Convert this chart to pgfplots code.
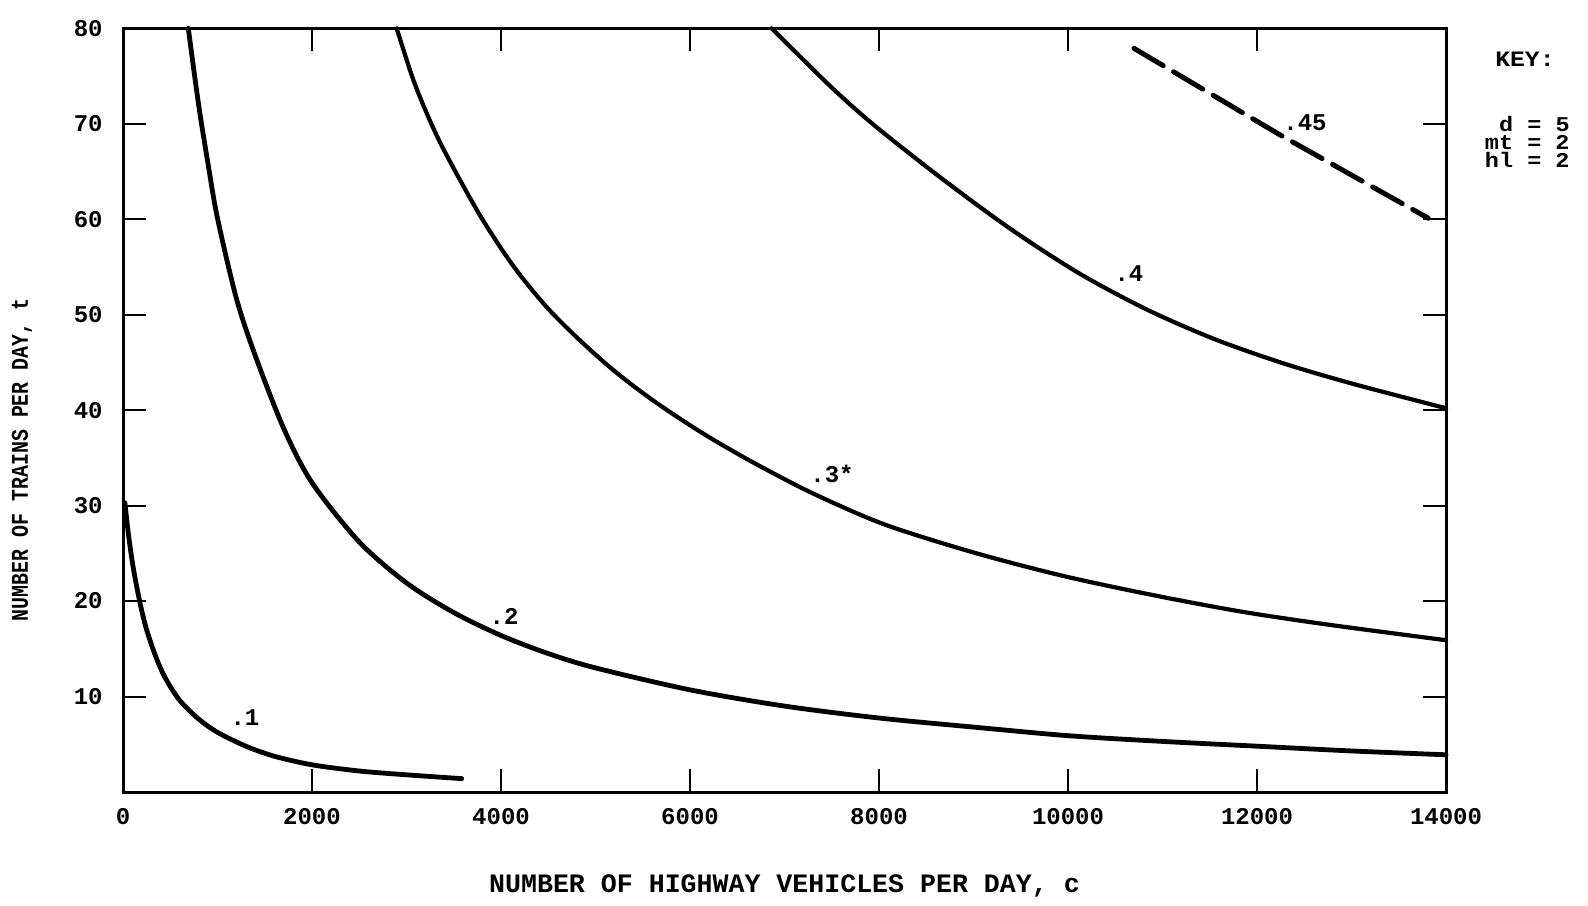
\documentclass[border=0pt]{standalone}
\usepackage{fontspec}
\usepackage{pgfplots}
\pgfplotsset{compat=1.18}
\newfontfamily\tw{Liberation Mono}
\newfontfamily\twc{Liberation Mono}[FakeStretch=0.83]
\newfontfamily\twk{Liberation Mono}[FakeStretch=1.12]

\begin{document}
\begin{tikzpicture}
\useasboundingbox (-61.5pt,-56.5pt) rectangle (732.5pt,396pt);
\begin{axis}[
  scale only axis, width=661.5pt, height=381.85pt,
  xmin=0, xmax=14000, ymin=0, ymax=80,
  scaled x ticks=false, scaled y ticks=false,
  xtick={0,2000,4000,6000,8000,10000,12000,14000},
  ytick={10,20,30,40,50,60,70,80},
  xticklabels={0,2000,4000,6000,8000,10000,12000,14000},
  yticklabels={10,20,30,40,50,60,70,80},
  tick align=inside, major tick length=11.5pt,
  major tick style={black, line width=1pt},
  axis line style={black, line width=1.5pt},
  ticklabel style={font=\fontsize{12}{14}\selectfont\tw\bfseries},
  xticklabel style={anchor=north, inner sep=0pt, yshift=-8pt},
  yticklabel style={anchor=east, inner sep=0pt, xshift=-10pt},
  xlabel={NUMBER OF HIGHWAY VEHICLES PER DAY, c},
  ylabel={NUMBER OF TRAINS PER DAY, t},
  xlabel style={at={(axis description cs:0.5,0)}, anchor=center, yshift=-47pt, font=\fontsize{13.3}{16}\selectfont\tw\bfseries},
  ylabel style={at={(axis description cs:-0.0763,0.435)}, anchor=center, font=\fontsize{12}{14}\selectfont\twc\bfseries},
  clip=false,
]
% curve .1
\addplot[black, line width=2.4pt, smooth, line cap=round] coordinates {
(20,30.3) (60,26.8) (110,23.4) (180,19.8) (250,17.0) (350,14.1) (450,11.9) (600,9.6) (800,7.65) (1000,6.25) (1300,4.8) (1600,3.75) (2000,2.85) (2500,2.2) (3000,1.8) (3584,1.4)
};
% curve .2
\addplot[black, line width=2.4pt, smooth, line cap=round] coordinates {
(691,80) (800,72.0) (900,65.8) (1000,60.1) (1200,51.7) (1400,45.7) (1700,38.1) (2000,32.4) (2500,26.2) (3000,21.9) (3500,18.8) (4000,16.4) (4500,14.5) (5000,13.0) (6000,10.7) (7000,9.0) (8000,7.75) (9000,6.8) (10000,5.9) (11000,5.3) (12000,4.8) (13000,4.3) (14000,3.9)
};
% curve .3
\addplot[black, line width=2.1pt, smooth, line cap=round] coordinates {
(2896,80) (3072,74.6) (3249,70.3) (3425,66.7) (3778,60.4) (4130,55.1) (4483,50.8) (4836,47.3) (5188,44.2) (5541,41.5) (5894,39.1) (6247,36.9) (6700,34.35) (7296,31.3) (8052,28.05) (8997,25.1) (9942,22.65) (10887,20.65) (11831,18.9) (12776,17.5) (14000,15.9)
};
% curve .4
\addplot[black, line width=2.1pt, smooth, line cap=round] coordinates {
(6865,80) (7488,73.9) (7967,69.7) (8686,64.1) (9404,58.9) (10123,54.3) (10842,50.5) (11561,47.4) (12280,44.9) (12999,42.8) (14000,40.2)
};
% curve .45 (dashed)
\addplot[black, line width=2.5pt, dash pattern=on 17pt off 6pt, line cap=round] coordinates {
(10698,77.9) (12232,68.9) (13813,60.1)
};
\node[font=\fontsize{12}{14}\selectfont\tw\bfseries, inner sep=0pt] at (axis cs:1291,7.75) {.1};
\node[font=\fontsize{12}{14}\selectfont\tw\bfseries, inner sep=0pt] at (axis cs:4032,18.4) {.2};
\node[font=\fontsize{12}{14}\selectfont\tw\bfseries, inner sep=0pt] at (axis cs:7503,33.3) {.3*};
\node[font=\fontsize{12}{14}\selectfont\tw\bfseries, inner sep=0pt] at (axis cs:10645,54.3) {.4};
\node[font=\fontsize{12}{14}\selectfont\tw\bfseries, inner sep=0pt] at (axis cs:12508,70.1) {.45};
\end{axis}
\node[anchor=base west, inner sep=0pt, font=\fontsize{11}{12}\selectfont\twk\bfseries] at (686pt,362.6pt) {KEY:};
\node[anchor=base east, inner sep=0pt, font=\fontsize{10.5}{12}\selectfont\twk\bfseries] at (723.5pt,330.4pt) {d = 5};
\node[anchor=base east, inner sep=0pt, font=\fontsize{10.5}{12}\selectfont\twk\bfseries] at (723.5pt,321.3pt) {mt = 2};
\node[anchor=base east, inner sep=0pt, font=\fontsize{10.5}{12}\selectfont\twk\bfseries] at (723.5pt,312.2pt) {hl = 2};
\end{tikzpicture}
\end{document}
